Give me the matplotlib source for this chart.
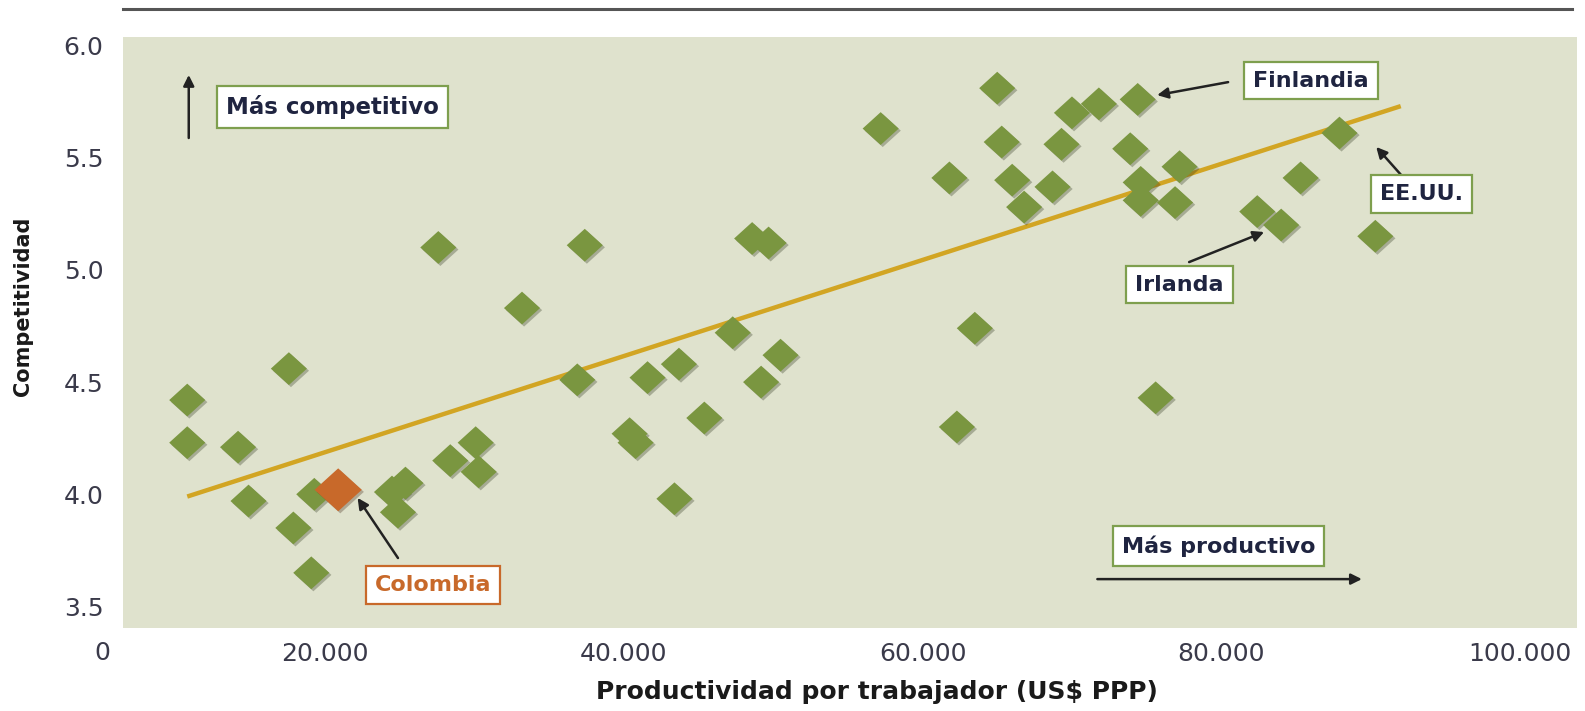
import matplotlib
matplotlib.use("Agg")
import matplotlib.pyplot as plt
import matplotlib.patheffects as pe
from matplotlib.lines import Line2D
from matplotlib.ticker import FuncFormatter
import numpy as np

# productivity per worker (US$ PPP) vs competitiveness index
prod = [10800, 10800, 14200, 14900, 17600, 17900, 19300, 19100, 24500, 25400,
        24900, 27600, 28400, 30100, 30300, 33200, 36900, 37400, 40400, 40800,
        41600, 43400, 43700, 45400, 47300, 48600, 49700, 49200, 50500, 57200,
        61800, 62300, 63500, 65000, 65300, 66000, 66800, 68700, 69300, 70000,
        71800, 73900, 74400, 74600, 74600, 75600, 76900, 77200, 82400, 84000,
        85300, 87900, 90300]
comp = [4.42, 4.23, 4.21, 3.97, 4.56, 3.85, 4.00, 3.65, 4.01, 4.05,
        3.92, 5.10, 4.15, 4.23, 4.10, 4.83, 4.51, 5.11, 4.27, 4.23,
        4.52, 3.98, 4.58, 4.34, 4.72, 5.14, 5.12, 4.50, 4.62, 5.63,
        5.41, 4.30, 4.74, 5.81, 5.57, 5.40, 5.28, 5.37, 5.56, 5.70,
        5.74, 5.54, 5.76, 5.39, 5.31, 4.43, 5.30, 5.46, 5.26, 5.20,
        5.41, 5.61, 5.15]

colombia_x, colombia_y = 20900, 4.02

trend_x = [10800, 92000]
trend_y = [3.99, 5.73]

x_ticks = [20000, 40000, 60000, 80000, 100000]
y_ticks = [3.5, 4.0, 4.5, 5.0, 5.5, 6.0]

BG = "#dfe2cd"
GREEN = "#7a9640"
ORANGE = "#c8692a"
GOLD = "#d2a523"
DARK = "#1f2440"
BOX_GREEN = "#7e9f4e"

plt.rcParams["font.family"] = ["DejaVu Sans"]

fig = plt.figure(figsize=(15.85, 7.11), dpi=100)
ax = fig.add_axes([0.0776, 0.1167, 0.9174, 0.8306])
ax.set_facecolor(BG)
for s in ax.spines.values():
    s.set_visible(False)

ax.set_xlim(6500, 103800)
ax.set_ylim(3.404, 6.036)

# diamond, slightly wider than tall
diamond = [(0, 1.0), (1.1, 0), (0, -1.0), (-1.1, 0), (0, 1.0)]
shadow = [pe.SimplePatchShadow(offset=(1.5, -1.5), alpha=0.3), pe.Normal()]

ax.plot(trend_x, trend_y, color=GOLD, lw=3.2, zorder=2, solid_capstyle="butt")
ax.scatter(prod, comp, marker=diamond, s=26**2, color=GREEN, linewidths=0,
           zorder=3, path_effects=shadow)
ax.scatter([colombia_x], [colombia_y], marker=diamond, s=34**2, color=ORANGE,
           linewidths=0, zorder=4, path_effects=shadow)

ax.set_xticks(x_ticks)
ax.set_yticks(y_ticks)
ax.xaxis.set_major_formatter(FuncFormatter(lambda v, p: f"{int(v):,}".replace(",", ".")))
ax.yaxis.set_major_formatter(FuncFormatter(lambda v, p: f"{v:.1f}"))
ax.tick_params(axis="both", length=0, labelsize=18, labelcolor="#3a3a4a")
ax.tick_params(axis="x", pad=10)
ax.tick_params(axis="y", pad=14)
# the "0" label sits at the left edge of the plot area
ax.text(-0.0144, -0.042, "0", transform=ax.transAxes, ha="center", va="center",
        fontsize=18, color="#3a3a4a")

ax.set_xlabel("Productividad por trabajador (US$ PPP)", fontsize=18,
              fontweight="bold", color="#1a1a1a")
ax.xaxis.set_label_coords(0.5186, -0.088)
ax.set_ylabel("Competitividad", fontsize=15, fontweight="bold", color="#1a1a1a")
ax.yaxis.set_label_coords(-0.062, 0.545)

# label boxes
def label(x, y, txt, size, color=DARK, edge=BOX_GREEN):
    ax.text(x, y, txt, ha="center", va="center", fontsize=size, fontweight="bold",
            color=color, zorder=6,
            bbox=dict(boxstyle="square,pad=0.4", fc="white", ec=edge, lw=1.6))

def arrow(x0, y0, x1, y1):
    ax.annotate("", xy=(x1, y1), xytext=(x0, y0), zorder=5,
                arrowprops=dict(arrowstyle="-|>", color="#222222", lw=1.8,
                                mutation_scale=16, shrinkA=0, shrinkB=0))

label(20500, 5.726, "Más competitivo", 16.5)
arrow(10900, 5.588, 10900, 5.869)

label(86000, 5.844, "Finlandia", 16)
arrow(80450, 5.837, 75700, 5.779)

label(93400, 5.338, "EE.UU.", 16)
arrow(92200, 5.41, 90360, 5.548)

label(77200, 4.935, "Irlanda", 16)
arrow(77840, 5.035, 82860, 5.169)

label(27240, 3.596, "Colombia", 16, color=ORANGE, edge=ORANGE)
arrow(24900, 3.716, 22200, 3.984)

label(79800, 3.77, "Más productivo", 16)
arrow(71700, 3.622, 89400, 3.622)

# rule across the top
fig.add_artist(Line2D([0.0776, 0.992], [0.987, 0.987], transform=fig.transFigure,
                      color="#555555", lw=2.2))

fig.savefig("out.png", dpi=100)
